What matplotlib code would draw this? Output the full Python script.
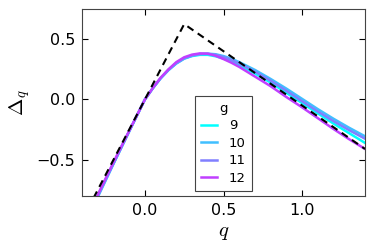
import matplotlib
matplotlib.use("Agg")
import matplotlib.pyplot as plt

q = [-0.4, -0.3, -0.2, -0.1, -0.05, 0.0, 0.05, 0.1, 0.15, 0.2, 0.25, 0.3, 0.35,
     0.4, 0.45, 0.5, 0.55, 0.6, 0.7, 0.8, 0.9, 1.0, 1.1, 1.2, 1.3, 1.4]

g9 = [-1.08, -0.80, -0.53, -0.265, -0.132, 0.0, 0.093, 0.175, 0.245, 0.300, 0.340,
      0.360, 0.370, 0.370, 0.358, 0.340, 0.315, 0.285, 0.215, 0.140, 0.055, -0.030,
      -0.115, -0.200, -0.280, -0.360]
g10 = [-1.10, -0.81, -0.535, -0.265, -0.132, 0.0, 0.092, 0.175, 0.243, 0.298, 0.338,
       0.362, 0.376, 0.380, 0.375, 0.360, 0.338, 0.310, 0.245, 0.170, 0.090, 0.005,
       -0.080, -0.160, -0.235, -0.305]
g11 = [-1.09, -0.80, -0.53, -0.262, -0.131, 0.0, 0.093, 0.177, 0.247, 0.303, 0.343,
       0.366, 0.377, 0.378, 0.370, 0.352, 0.328, 0.298, 0.230, 0.155, 0.072, -0.015,
       -0.100, -0.180, -0.255, -0.325]
g12 = [-1.06, -0.79, -0.52, -0.26, -0.13, 0.0, 0.095, 0.180, 0.250, 0.310, 0.350,
       0.372, 0.382, 0.380, 0.362, 0.335, 0.305, 0.270, 0.190, 0.110, 0.020, -0.065,
       -0.155, -0.245, -0.330, -0.410]

dash_q = [-0.4, 0.25, 1.4]
dash_y = [-1.0, 0.625, -0.41]

labels = ["9", "10", "11", "12"]
series = [g9, g10, g11, g12]

plt.rcParams['mathtext.fontset'] = 'cm'
fig = plt.figure(figsize=(3.74, 2.49), dpi=100)
ax = fig.add_axes([82/374, 1-196/249, 283/374, 187/249])

cmap = plt.get_cmap('cool')
cols = [cmap(v) for v in (0.0, 0.25, 0.5, 0.75)]
for lab, ys, c in zip(labels, series, cols):
    ax.plot(q, ys, color=c, lw=1.8, label=lab)
ax.plot(dash_q, dash_y, color='black', lw=1.5, ls=(0, (3.5, 2.5)))

ax.set_xlim(-0.4, 1.4)
ax.set_ylim(-0.8, 0.75)
ax.set_xticks([0.0, 0.5, 1.0])
ax.set_yticks([-0.5, 0.0, 0.5])
ax.set_xticklabels(["0.0", "0.5", "1.0"])
ax.set_yticklabels(["\u22120.5", "0.0", "0.5"])
ax.tick_params(direction='in', top=True, right=True, labelsize=11.5, length=4,
               width=0.8, pad=5)
for s in ax.spines.values():
    s.set_color('#444444')
ax.set_xlabel(r'$q$', fontsize=15, labelpad=3)
ax.set_ylabel(r'$\Delta_q$', fontsize=15, labelpad=3)

leg = ax.legend(title='g', loc='lower left', bbox_to_anchor=(0.4, 0.027),
                borderaxespad=0, fontsize=9.5, title_fontsize=9.5, fancybox=False,
                handlelength=1.2, labelspacing=0.35, borderpad=0.45, handletextpad=0.9)
leg.get_frame().set_edgecolor('#444444')
leg.get_frame().set_linewidth(0.8)
leg.get_frame().set_alpha(1)

fig.savefig("out.png", dpi=100)
